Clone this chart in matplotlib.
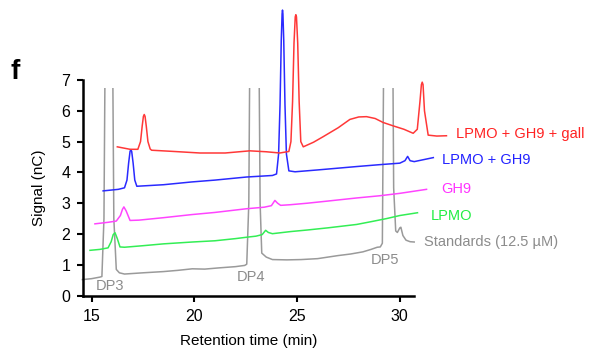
import numpy as np
import matplotlib
matplotlib.use('Agg')
import matplotlib.pyplot as plt
from matplotlib.patches import Rectangle

plt.rcParams['font.family'] = ['Liberation Sans', 'DejaVu Sans']

# standards (gray), peaks go off-scale and are cut at the detector limit
t_std = [14.55, 15.0, 15.4, 15.5, 15.6, 15.7, 15.98, 16.08, 16.2, 16.35, 16.6, 17.5, 18.5, 19.2,
         19.9, 20.5, 21.2, 22.0, 22.45, 22.55, 22.65, 22.74, 23.1, 23.2, 23.28, 23.5, 23.8, 24.5,
         25.2, 26.0, 27.0, 27.6, 28.2, 28.6, 28.9, 29.05, 29.15, 29.26, 29.62, 29.7, 29.8, 29.88,
         30.0, 30.05, 30.15, 30.3, 30.5, 30.7]
y_std = [0.52, 0.55, 0.6, 0.62, 2.5, 12, 12, 2.5, 0.85, 0.74, 0.7, 0.74, 0.78, 0.82,
         0.87, 0.86, 0.9, 0.94, 0.98, 1.02, 3.0, 12, 12, 3.0, 1.38, 1.25, 1.17, 1.16,
         1.17, 1.2, 1.3, 1.35, 1.42, 1.5, 1.57, 1.58, 1.7, 12, 12, 3.5, 2.1, 2.05,
         2.2, 2.22, 1.95, 1.8, 1.75, 1.74]

t_lpmo = [14.92, 15.4, 15.8, 15.95, 16.05, 16.14, 16.25, 16.38, 16.6, 17.5, 18.5, 19.9, 21.0, 22.0,
          22.6, 23.0, 23.3, 23.47, 23.6, 23.8, 24.7, 25.5, 26.5, 27.9, 28.6, 29.35, 30.0, 30.86]
y_lpmo = [1.47, 1.5, 1.55, 1.75, 1.98, 2.04, 1.85, 1.58, 1.57, 1.62, 1.68, 1.74, 1.78, 1.85,
          1.9, 1.93, 1.98, 2.12, 2.05, 2.01, 2.08, 2.13, 2.2, 2.31, 2.4, 2.5, 2.6, 2.69]

t_gh9 = [15.16, 15.8, 16.2, 16.4, 16.5, 16.57, 16.68, 16.87, 17.3, 18.5, 19.87, 21.0, 22.54,
         23.4, 23.75, 23.92, 24.05, 24.2, 24.66, 25.5, 26.5, 27.9, 29.0, 30.0, 31.3]
y_gh9 = [2.33, 2.38, 2.42, 2.6, 2.8, 2.88, 2.75, 2.44, 2.45, 2.53, 2.63, 2.7, 2.82,
         2.87, 2.92, 3.09, 3.0, 2.93, 2.95, 3.0, 3.07, 3.17, 3.24, 3.32, 3.45]

t_both = [15.56, 16.3, 16.6, 16.72, 16.8, 16.87, 16.91, 16.95, 17.02, 17.1, 17.2, 18.5, 19.87,
          21.0, 22.54, 23.8, 24.0, 24.1, 24.17, 24.23, 24.27, 24.29, 24.31, 24.35, 24.41, 24.48,
          24.6, 24.9, 26.0, 27.9, 29.0, 30.0, 30.25, 30.38, 30.5, 30.7, 31.2, 31.63]
y_both = [3.4, 3.45, 3.5, 3.75, 4.3, 4.68, 4.74, 4.68, 4.3, 3.75, 3.55, 3.6, 3.69,
          3.75, 3.85, 3.9, 3.95, 4.6, 6.2, 8.3, 9.15, 9.27, 9.15, 8.3, 6.2, 4.6,
          4.05, 4.02, 4.08, 4.19, 4.25, 4.3, 4.38, 4.52, 4.38, 4.35, 4.42, 4.48]

t_gall = [16.25, 16.87, 17.25, 17.38, 17.46, 17.52, 17.56, 17.6, 17.66, 17.74, 17.85, 17.92, 19.0,
          20.27, 21.5, 22.7, 23.5, 24.16, 24.6, 24.7, 24.78, 24.85, 24.91, 24.94, 24.97, 25.03,
          25.1, 25.18, 25.3, 25.8, 26.27, 27.0, 27.57, 28.0, 28.38, 28.8, 29.19, 29.68, 30.2,
          30.65, 30.85, 30.98, 31.05, 31.09, 31.13, 31.2, 31.38, 31.8, 32.27]
y_gall = [4.83, 4.75, 4.75, 5.0, 5.5, 5.82, 5.88, 5.82, 5.5, 5.0, 4.76, 4.72, 4.68,
          4.63, 4.63, 4.7, 4.67, 4.63, 4.68, 5.0, 6.3, 8.2, 9.05, 9.12, 9.05, 8.2,
          6.3, 5.0, 4.83, 4.98, 5.16, 5.45, 5.72, 5.8, 5.81, 5.75, 5.62, 5.51, 5.4,
          5.27, 5.4, 6.3, 6.85, 6.93, 6.85, 6.0, 5.21, 5.18, 5.19]

fig = plt.figure(figsize=(5.9, 3.49), dpi=100)
ax = fig.add_axes([83 / 590, 1 - 295.6 / 349, (414 - 83) / 590, (295.6 - 80) / 349])
ax.set_xlim(14.58, 30.69)
ax.set_ylim(0, 7)

gray = '#9a9a9a'
h, = ax.plot(t_std, y_std, color=gray, lw=1.1)
h.set_clip_path(Rectangle((10, -1), 30, 7.74, transform=ax.transData))
ax.plot(t_lpmo, y_lpmo, color='#33ee55', lw=1.1, clip_on=False)
ax.plot(t_gh9, y_gh9, color='#ff44ff', lw=1.1, clip_on=False)
ax.plot(t_both, y_both, color='#2a2aff', lw=1.1, clip_on=False)
ax.plot(t_gall, y_gall, color='#ff3838', lw=1.1, clip_on=False)

fs = 10.5
ax.text(32.75, 5.25, 'LPMO + GH9 + gall', color='#ff2222', fontsize=fs, va='center')
ax.text(32.05, 4.4, 'LPMO + GH9', color='#2222ff', fontsize=fs, va='center')
ax.text(32.0, 3.46, 'GH9', color='#ff33ff', fontsize=fs, va='center')
ax.text(31.5, 2.6, 'LPMO', color='#22ee44', fontsize=fs, va='center')
ax.text(31.2, 1.75, 'Standards (12.5 \u00b5M)', color='#8c8c8c', fontsize=fs, va='center')
ax.text(15.87, 0.3, 'DP3', color='#8c8c8c', fontsize=fs, ha='center', va='center')
ax.text(22.75, 0.6, 'DP4', color='#8c8c8c', fontsize=fs, ha='center', va='center')
ax.text(29.3, 1.15, 'DP5', color='#8c8c8c', fontsize=fs, ha='center', va='center')

for s in ['top', 'right']:
    ax.spines[s].set_visible(False)
for s in ['left', 'bottom']:
    ax.spines[s].set_linewidth(1.8)
ax.set_xticks([15, 20, 25, 30])
ax.set_yticks(range(8))
ax.tick_params(direction='out', length=4, width=1.5, labelsize=11.5)
ax.tick_params(axis='x', pad=6)
ax.tick_params(axis='y', pad=5)
ax.set_xlabel('Retention time (min)', fontsize=fs + 0.5, labelpad=7)
ax.set_ylabel('Signal (nC)', fontsize=fs + 0.5, labelpad=11)

fig.text(0.018, 0.795, 'f', fontsize=20, fontweight='bold', va='center')

fig.savefig('out.png', dpi=100)
